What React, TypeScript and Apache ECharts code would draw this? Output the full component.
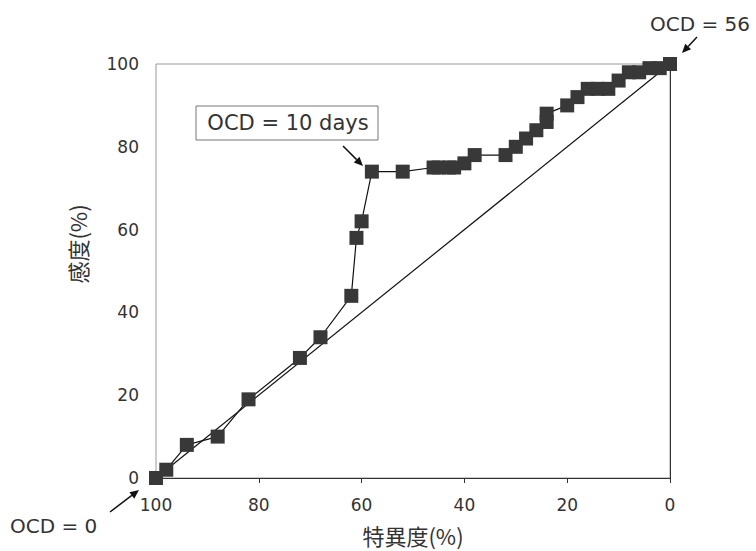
import React, { useEffect, useRef } from "react";
import * as echarts from "echarts";

// ROC curve points: specificity (%) and sensitivity (%)
const specificity = [100, 98, 94, 88, 82, 72, 68, 62, 61, 60, 58, 52, 46, 45, 43, 42, 40, 38, 32, 30, 28, 26, 24, 24, 20, 18, 16, 14, 12, 10, 8, 6, 4, 2, 0];
const sensitivity = [0, 2, 8, 10, 19, 29, 34, 44, 58, 62, 74, 74, 75, 75, 75, 75, 76, 78, 78, 80, 82, 84, 86, 88, 90, 92, 94, 94, 94, 96, 98, 98, 99, 99, 100];
// Reference diagonal
const diagonalSpec = [100, 0];
const diagonalSens = [0, 100];

const xAxisName = "特異度(%)";
const yAxisName = "感度(%)";
const annotations = ["OCD = 10 days", "OCD = 56", "OCD = 0"];

const FONT = "'DejaVu Sans', 'Noto Sans CJK JP', sans-serif";
const CJK_FONT = "'Noto Sans CJK JP', sans-serif";
const TEXT_COLOR = "#333";

function arrow(x1: number, y1: number, x2: number, y2: number) {
  const ang = Math.atan2(y2 - y1, x2 - x1);
  const len = 9;
  const half = 4;
  const bx = x2 - len * Math.cos(ang);
  const by = y2 - len * Math.sin(ang);
  const px = -Math.sin(ang) * half;
  const py = Math.cos(ang) * half;
  return [
    {
      type: "line",
      shape: { x1, y1, x2: bx, y2: by },
      style: { stroke: "#111", lineWidth: 1.5 },
      silent: true,
    },
    {
      type: "polygon",
      shape: {
        points: [
          [x2, y2],
          [bx + px, by + py],
          [bx - px, by - py],
        ],
      },
      style: { fill: "#111" },
      silent: true,
    },
  ];
}

export default function App() {
  const ref = useRef<HTMLDivElement>(null);

  useEffect(() => {
    if (!ref.current) return;
    const chart = echarts.init(ref.current, undefined, { renderer: "svg" });
    const rocData = specificity.map((s, i) => [s, sensitivity[i]]);
    const diagData = diagonalSpec.map((s, i) => [s, diagonalSens[i]]);

    chart.setOption({
      animation: false,
      backgroundColor: "#ffffff",
      textStyle: { fontFamily: FONT },
      grid: {
        left: 156,
        right: 86,
        top: 64,
        bottom: 71,
        show: true,
        borderColor: "#999",
        borderWidth: 1,
        backgroundColor: "transparent",
      },
      xAxis: {
        type: "value",
        inverse: true,
        min: 0,
        max: 100,
        interval: 20,
        name: xAxisName,
        nameLocation: "middle",
        nameGap: 46,
        nameTextStyle: { fontSize: 22, color: TEXT_COLOR, fontFamily: CJK_FONT },
        axisLine: { show: true, lineStyle: { color: "#333", width: 1 } },
        axisTick: { show: true, length: 5, lineStyle: { color: "#333" } },
        axisLabel: { fontSize: 17, color: TEXT_COLOR, margin: 19, fontFamily: FONT },
        splitLine: { show: false },
      },
      yAxis: {
        type: "value",
        min: 0,
        max: 100,
        interval: 20,
        axisLine: { show: true, lineStyle: { color: "#333", width: 1 } },
        axisTick: { show: false },
        axisLabel: { fontSize: 17, color: TEXT_COLOR, margin: 17, fontFamily: FONT },
        splitLine: { show: false },
      },
      series: [
        {
          type: "line",
          data: diagData,
          symbol: "none",
          lineStyle: { color: "#111", width: 1.2 },
          z: 2,
        },
        {
          type: "line",
          data: rocData,
          symbol: "rect",
          symbolSize: 14,
          itemStyle: { color: "#383838" },
          lineStyle: { color: "#111", width: 1.2 },
          z: 3,
        },
      ],
      graphic: [
        {
          type: "text",
          x: 77,
          y: 244,
          rotation: Math.PI / 2,
          style: {
            text: yAxisName,
            fontSize: 22,
            fontFamily: CJK_FONT,
            fill: TEXT_COLOR,
            align: "center",
            verticalAlign: "middle",
          },
        },
        {
          type: "rect",
          shape: { x: 196, y: 106, width: 182, height: 34 },
          style: { fill: "#fff", stroke: "#777", lineWidth: 1 },
          z: 10,
        },
        {
          type: "text",
          x: 288,
          y: 123,
          z: 11,
          style: {
            text: annotations[0],
            fontSize: 21,
            fontFamily: FONT,
            fill: TEXT_COLOR,
            align: "center",
            verticalAlign: "middle",
          },
        },
        ...arrow(343, 146, 363, 166),
        {
          type: "text",
          x: 650,
          y: 24,
          style: {
            text: annotations[1],
            fontSize: 20,
            fontFamily: FONT,
            fill: TEXT_COLOR,
            align: "left",
            verticalAlign: "middle",
          },
        },
        ...arrow(697, 37, 682, 53),
        {
          type: "text",
          x: 10,
          y: 526,
          style: {
            text: annotations[2],
            fontSize: 20,
            fontFamily: FONT,
            fill: TEXT_COLOR,
            align: "left",
            verticalAlign: "middle",
          },
        },
        ...arrow(110, 512, 139, 490),
      ],
    });

    return () => chart.dispose();
  }, []);

  return (
    <div
      ref={ref}
      style={{ position: "fixed", left: 0, top: 0, width: 756, height: 551, background: "#fff" }}
    />
  );
}
